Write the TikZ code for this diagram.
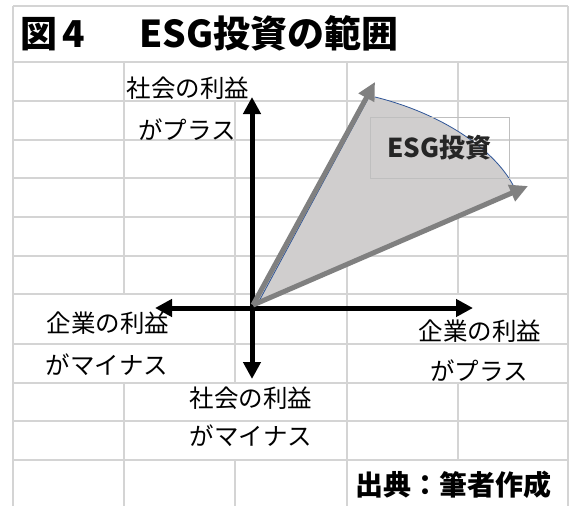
\documentclass[tikz,border=0pt]{standalone}
\usepackage{fontspec}
\newfontfamily\jp{Noto Sans CJK JP}
\usetikzlibrary{arrows.meta}
\definecolor{gridc}{HTML}{D4D4D4}
\definecolor{arrg}{HTML}{808080}
\definecolor{fillg}{HTML}{D0CECE}
\definecolor{bluel}{HTML}{2F5597}
\definecolor{boxb}{HTML}{BFBFBF}
\definecolor{txtd}{HTML}{262626}
\begin{document}
\begin{tikzpicture}[x=1pt,y=-1pt,
  gridline/.style={draw=gridc,line width=1.8pt},
  axisline/.style={line width=5pt,black,{Triangle[length=17pt,width=17pt]}-{Triangle[length=17pt,width=17pt]}},
  grayarrow/.style={line width=5pt,arrg,-{Triangle[length=18pt,width=17pt]}},
  lbl/.style={font=\jp\fontsize{24.5}{26}\selectfont,inner sep=0pt,anchor=center},
  ttl/.style={font=\jp\bfseries\fontsize{37}{40}\selectfont,inner sep=0pt},
]
\useasboundingbox (0,0) rectangle (574,506);
\fill[white] (0,0) rectangle (574,506);
% grid
\draw[gridline] (13,6) -- (568,6);
\foreach \yy in {62,101,140,178,217,256,294,344,383,421,460}
  \draw[gridline] (13,\yy) -- (568,\yy);
\draw[gridline] (13,6) -- (13,506);
\draw[gridline] (568,6) -- (568,506);
\draw[gridline] (124,62) -- (124,294);
\draw[gridline] (124,383) -- (124,506);
\draw[gridline] (235,101) -- (235,383);
\draw[gridline] (235,460) -- (235,506);
\draw[gridline] (347,62) -- (347,506);
\draw[gridline] (458,62) -- (458,294);
\draw[gridline] (458,383) -- (458,460);
% gray arrow anchors
\coordinate (G0) at (253,305);
\coordinate (GA) at (375,82);
\coordinate (GB) at (528,186);
% shaded sector
\coordinate (F0) at (253,305);
\coordinate (FA) at (367,96);
\coordinate (F1) at (375,97);
\coordinate (F2) at (513,185);
\coordinate (FB) at (515,192);
\fill[fillg] (F0) -- (FA) -- (F1) .. controls (440,113) and (493,148) .. (F2) -- (FB) -- cycle;
\draw[bluel,line width=0.8pt] (257,305) -- (369,97);
\draw[bluel,line width=0.8pt] (F1) .. controls (440,113) and (493,148) .. (F2);
% axes
\coordinate (N) at (252,97);
\coordinate (S) at (252,379);
\coordinate (W) at (155,308);
\coordinate (E) at (473,308);
\draw[axisline] (S) -- (N);
\draw[axisline] (W) -- (E);
% gray arrows
\draw[grayarrow] (G0) -- (GA);
\draw[grayarrow] (G0) -- (GB);
% ESG box
\node[draw=boxb,line width=1pt,minimum width=139pt,minimum height=61pt,inner sep=0pt,
  font=\jp\bfseries\fontsize{26}{28}\selectfont,text=txtd] (esg) at (439.5,147.5) {ESG投資};
% title
\node[ttl,anchor=base] (t1) at (38.5,47.5) {図};
\node[ttl,anchor=base] (t2) at (73.5,47.5) {4};
\node[ttl,anchor=base west] (t3) at (139,47.5) {ESG投資の範囲};
% labels
\node[lbl] (nt1) at (188,88) {社会の利益};
\node[lbl] (nt2) at (187,130) {がプラス};
\node[lbl] (wl1) at (108,323) {企業の利益};
\node[lbl] (wl2) at (107,365) {がマイナス};
\node[lbl] (el1) at (480,331) {企業の利益};
\node[lbl] (el2) at (479,371) {がプラス};
\node[lbl] (sl1) at (251,398) {社会の利益};
\node[lbl] (sl2) at (251,436) {がマイナス};
\node[font=\jp\bfseries\fontsize{28}{30}\selectfont,inner sep=0pt] (src) at (453,485) {出典：筆者作成};
\end{tikzpicture}
\end{document}
